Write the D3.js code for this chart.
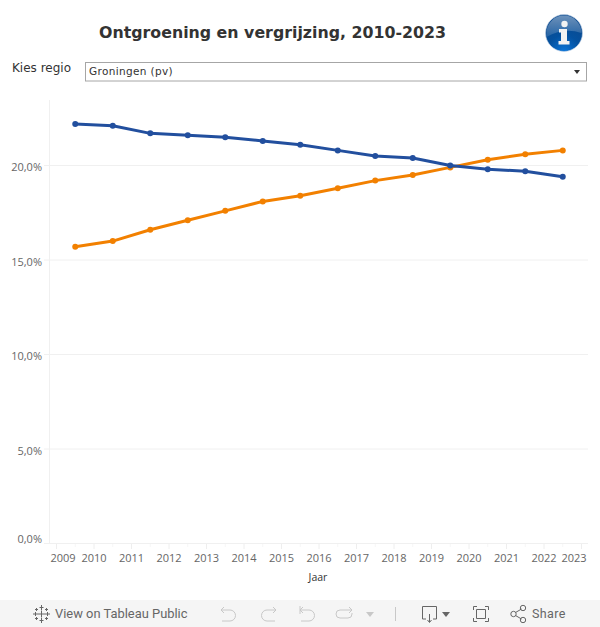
<!DOCTYPE html>
<html><head><meta charset="utf-8">
<script src="https://cdn.jsdelivr.net/npm/d3@7"></script>
<style>html,body{margin:0;padding:0;background:#fff}svg{display:block}</style>
</head><body><svg id="c" width="600" height="627"></svg>
<script>
const years=[2009,2010,2011,2012,2013,2014,2015,2016,2017,2018,2019,2020,2021,2022,2023];
const pointYears=[2009.5,2010.5,2011.5,2012.5,2013.5,2014.5,2015.5,2016.5,2017.5,2018.5,2019.5,2020.5,2021.5,2022.5];
const oud=[22.2,22.1,21.7,21.6,21.5,21.3,21.1,20.8,20.5,20.4,20.0,19.8,19.7,19.4];
const jong=[15.7,16.0,16.6,17.1,17.6,18.1,18.4,18.8,19.2,19.5,19.9,20.3,20.6,20.8];
const yTicks=[0,5,10,15,20];
const title="Ontgroening en vergrijzing, 2010-2023";
const BLUE="#224f9e",ORANGE="#f28000";
const svg=d3.select("#c");
const x=d3.scaleLinear().domain([2009,2023]).range([56.5,581.5]);
const y=d3.scaleLinear().domain([0,20]).range([543.5,165.5]);
const sans="'DejaVu Sans'",tick="'Open Sans'";

svg.append("text").attr("x",272.5).attr("y",38).attr("text-anchor","middle")
 .attr("font-family",sans).attr("font-weight",700).attr("font-size",15.8).attr("fill","#333").text(title);
svg.append("text").attr("x",12).attr("y",72).attr("font-family",sans).attr("font-size",12).attr("fill","#333").text("Kies regio");
svg.append("rect").attr("x",85.5).attr("y",62.5).attr("width",501).attr("height",18.5).attr("fill","#fff").attr("stroke","#a6a6a6");
svg.append("text").attr("x",89).attr("y",75).attr("font-family",sans).attr("font-size",10.5).attr("letter-spacing",.35).attr("fill","#333").text("Groningen (pv)");
svg.append("path").attr("d","M574 70h6l-3 4z").attr("fill","#333");

// info icon
const defs=svg.append("defs");
const g1=defs.append("radialGradient").attr("id","ib").attr("cx",.5).attr("cy",1).attr("r",.8);
g1.append("stop").attr("offset",0).attr("stop-color","#0a74d8");
g1.append("stop").attr("offset",.55).attr("stop-color","#04519f");
g1.append("stop").attr("offset",1).attr("stop-color","#0a4a90");
const g2=defs.append("linearGradient").attr("id","ig").attr("x1",0).attr("x2",0).attr("y1",0).attr("y2",1);
g2.append("stop").attr("offset",0).attr("stop-color","#fff").attr("stop-opacity",.4);
g2.append("stop").attr("offset",1).attr("stop-color","#fff").attr("stop-opacity",.12);
const ic=svg.append("g");
ic.append("circle").attr("cx",564).attr("cy",33).attr("r",18.5).attr("fill","url(#ib)").attr("stroke","#c4d3e6").attr("stroke-width",.6);
ic.append("path").attr("d","M546.5 33A17.5 17.5 0 0 1 581.5 33Q564 27 546.5 37Z").attr("fill","url(#ig)");
ic.append("circle").attr("cx",564.5).attr("cy",24).attr("r",3.2).attr("fill","#f2f2f2");
ic.append("path").attr("d","M559 29h8v12h2.5v3.5h-11V41h2.5v-8.5h-2z").attr("fill","#f2f2f2");

// grid and axes
svg.append("line").attr("x1",49.5).attr("x2",49.5).attr("y1",100).attr("y2",544).attr("stroke","#f0f0f0");
svg.append("g").selectAll("line").data(yTicks).join("line")
 .attr("x1",44).attr("x2",588).attr("y1",d=>y(d)).attr("y2",d=>y(d)).attr("stroke","#f0f0f0");
svg.append("g").selectAll("text").data(yTicks).join("text")
 .attr("x",42).attr("y",d=>d===0?y(d)-.5:y(d)+5.5).attr("text-anchor","end").attr("font-family",tick).attr("font-size",11).attr("fill","#666")
 .text(d=>d3.format(".1f")(d).replace(".",",")+"%");
svg.append("g").selectAll("line").data(years).join("line")
 .attr("x1",d=>x(d)).attr("x2",d=>x(d)).attr("y1",544).attr("y2",549).attr("stroke","#eeeeee");
svg.append("g").selectAll("line").data(pointYears).join("line")
 .attr("x1",d=>x(d)).attr("x2",d=>x(d)).attr("y1",544).attr("y2",547).attr("stroke","#f6f6f6");
svg.append("g").selectAll("text").data(years).join("text")
 .attr("x",d=>d===2009?63:d===2023?574:x(d)).attr("y",562).attr("text-anchor","middle")
 .attr("font-family",tick).attr("font-size",11).attr("fill","#666").text(d=>d);
svg.append("text").attr("x",318).attr("y",581).attr("text-anchor","middle").attr("font-family",tick).attr("font-size",10.5).attr("fill","#333").text("Jaar");

// series
const line=d3.line().x((d,i)=>x(pointYears[i])).y(d=>y(d));
[[jong,ORANGE],[oud,BLUE]].forEach(([s,c])=>{
 svg.append("path").attr("d",line(s)).attr("fill","none").attr("stroke",c).attr("stroke-width",3).attr("stroke-linejoin","round");
 svg.append("g").selectAll("circle").data(s).join("circle").attr("cx",(d,i)=>x(pointYears[i])).attr("cy",d=>y(d)).attr("r",3).attr("fill",c);
});

// toolbar
svg.append("rect").attr("y",600).attr("width",600).attr("height",27).attr("fill","#f5f5f5");
const tb=svg.append("g").attr("fill","none");
const tl=(d,c)=>tb.append("path").attr("d",d).attr("stroke",c||"#666");
tl("M41.5 605v5M39.500 607.5h4M41.5 618v5M39.500 620.5h4M33 614h5M35.500 612v4M45 614h5M47.500 612v4M41.5 610.500v7M38 614h7M36.500 608v3M35 609.500h3M46.500 608v3M45 609.500h3M36.500 617v3M35 618.500h3M46.500 617v3M45 618.500h3");
svg.append("text").attr("x",55).attr("y",618).attr("font-family","Roboto").attr("font-weight",400).attr("font-size",12.9).attr("fill","#666").text("View on Tableau Public");
tl("M221 610h9a5.5 5.5 0 0 1 0 11h-8M224 607l-3 3 3 3","#c8c8c8");
tl("M276 610h-9a5.5 5.5 0 0 0 0 11h8M273 607l3 3-3 3","#c8c8c8");
tl("M300 610h9a5.5 5.5 0 0 1 0 11h-8M303 607l-3 3 3 3M300 606v8","#c8c8c8");
tl("M351 610h-11a4 4 0 0 0 0 8h8a4 4 0 0 0 4-4v-1M349 607l3 3-3 3","#c8c8c8");
svg.append("path").attr("d","M366 612h8l-4 5z").attr("fill","#c8c8c8");
tl("M395.5 607v14","#c8c8c8");
tl("M426 619h-3.500v-12.500h14v12.500h-3.500M429.5 614v8M427.5 620l2 2.500 2-2.500");
svg.append("path").attr("d","M442 612h8l-4 5z").attr("fill","#666");
tl("M477 606.500h-3.500v3.500M485 606.500h3.500v3.500M477 621.500h-3.500v-3.500M485 621.500h3.500v-3.500M476.5 609.500h9v9h-9z");
tl("M515.5 612.500l6-3.500M515.5 615.500l6 3.500");
[[513.5,614],[523,608],[523,620]].forEach(p=>tb.append("circle").attr("cx",p[0]).attr("cy",p[1]).attr("r",2.7).attr("stroke","#666"));
svg.append("text").attr("x",532).attr("y",618).attr("font-family","Roboto").attr("font-size",12.5).attr("letter-spacing",.4).attr("fill","#666").text("Share");
</script></body></html>
